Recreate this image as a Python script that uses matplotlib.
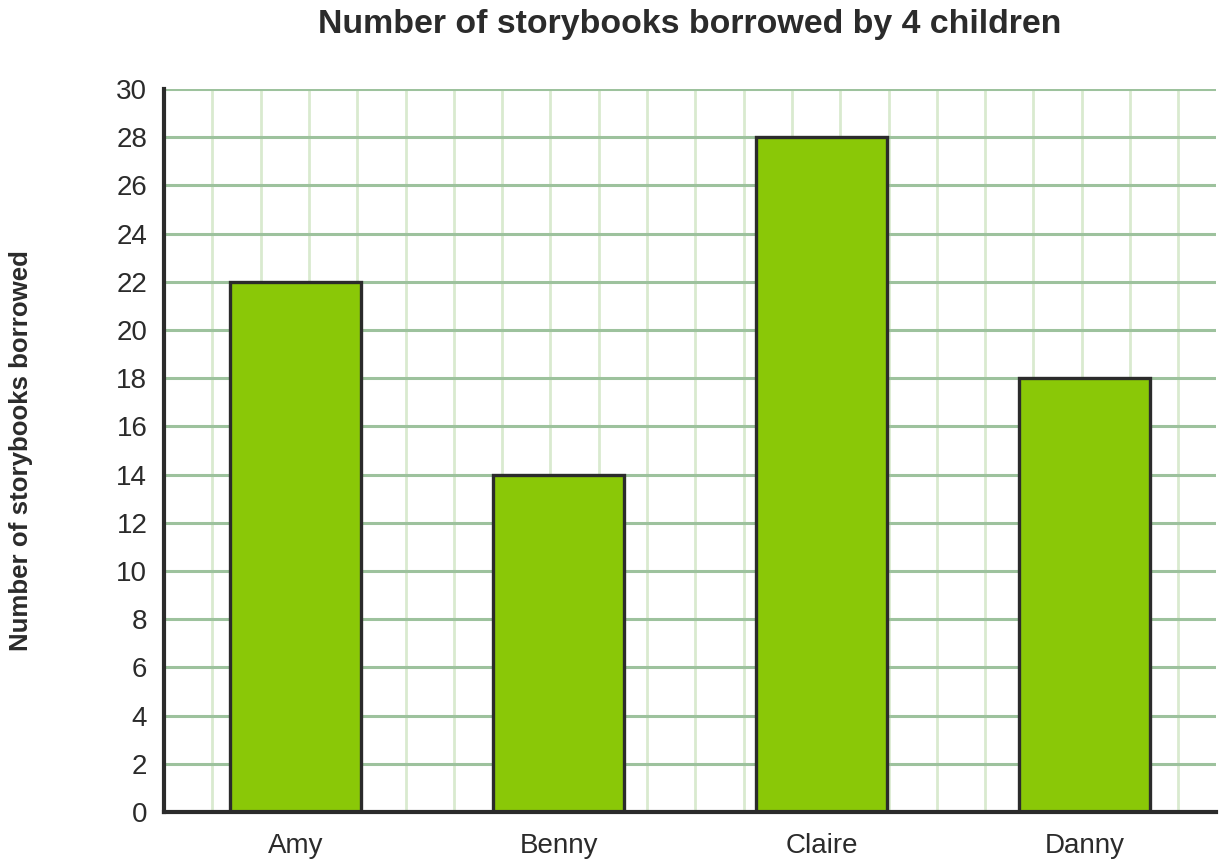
import matplotlib.pyplot as plt
import numpy as np

plt.rcParams['font.family'] = ['Liberation Sans', 'DejaVu Sans']

# Data
children = ['Amy', 'Benny', 'Claire', 'Danny']
books = [22, 14, 28, 18]
y_ticks = list(range(0, 31, 2))

fig = plt.figure(figsize=(12.24, 8.66), dpi=100, facecolor='white')
ax = fig.add_axes([0.134, 0.0624, 0.8595, 0.8348])

x = np.arange(len(children))
ax.bar(x, books, width=0.5, color='#8AC807', edgecolor='#2b2b2b', linewidth=2.4, zorder=3)

ax.set_xlim(-0.5, 3.5)
ax.set_ylim(0, 30)
ax.set_yticks(y_ticks)
ax.set_xticks(x)
ax.set_xticklabels(children)

# light vertical grid (every ~48 px) and darker horizontal grid
vstep = 48.3 / 263
for k in range(1, 22):
    ax.axvline(-0.5 + k * vstep, color='#d9eacf', linewidth=2, zorder=1)
for yv in y_ticks[1:]:
    ax.axhline(yv, color='#9dc29d', linewidth=2.2, zorder=2)

for s in ['top', 'right']:
    ax.spines[s].set_visible(False)
for s in ['left', 'bottom']:
    ax.spines[s].set_color('#2b2b2b')
    ax.spines[s].set_linewidth(3)
    ax.spines[s].set_zorder(4)

ax.tick_params(axis='both', length=0, labelsize=20, colors='#2b2b2b')
ax.tick_params(axis='y', pad=12)
ax.tick_params(axis='x', pad=15)

ax.set_title('Number of storybooks borrowed by 4 children', fontsize=24.4,
             fontweight='bold', color='#2b2b2b', pad=40)
ax.set_ylabel('Number of storybooks borrowed', fontsize=18.6, fontweight='bold',
              color='#2b2b2b', labelpad=60)

fig.savefig('out.png', dpi=100)
